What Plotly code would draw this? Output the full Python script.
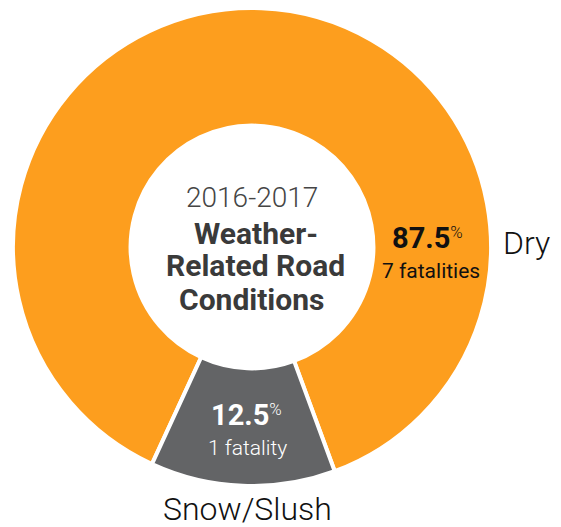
import plotly.graph_objects as go

# ---- data ----
categories = ["Dry", "Snow/Slush"]
fatalities = [7, 1]
percent_labels = ["87.5", "12.5"]
count_labels = ["7 fatalities", "1 fatality"]
colors = ["#FD9E1E", "#636466"]
title_year = "2016-2017"
title_lines = ["Weather-", "Related Road", "Conditions"]

# the page body has an 8px margin, so the figure is drawn 8px in
OFF = 8
W, H = 561 - OFF, 527 - OFF
# square plot area, in page pixels: x 13..491, y 8..486
L, T, SIZE = 13 - OFF, 8 - OFF, 478
R = W - L - SIZE
B = H - T - SIZE


def px(x):
    return (x - OFF - L) / SIZE


def py(y):
    return (T + SIZE - (y - OFF)) / SIZE


fig = go.Figure(
    go.Pie(
        labels=categories,
        values=fatalities,
        sort=False,
        direction="clockwise",
        rotation=-155.25,
        hole=0.508,
        marker=dict(colors=colors, line=dict(color="white", width=4)),
        textinfo="none",
        hoverinfo="label+value+percent",
        showlegend=False,
    )
)

FONT = "Roboto"
ann = []


def add(text, cx, baseline, size, color, weight=400):
    ann.append(
        dict(
            text=text,
            x=px(cx),
            y=py(baseline - 0.34 * size),
            xref="paper",
            yref="paper",
            xanchor="center",
            yanchor="middle",
            showarrow=False,
            font=dict(family=FONT, size=size, color=color, weight=weight),
        )
    )


PCT = "<span style='font-size:24px'><sup>%</sup></span>"

add(title_year, 252, 207, 28, "#454545", 300)
add(title_lines[0], 256, 244, 30, "#3A3A3A", 700)
add(title_lines[1], 255, 276, 30, "#3A3A3A", 700)
add(title_lines[2], 251.5, 310, 30, "#3A3A3A", 700)

add(f"<b>{percent_labels[0]}</b>{PCT}", 427.5, 248, 29, "#111111", 300)
add(count_labels[0], 431, 278, 21, "#111111", 400)
add(categories[0], 526, 254, 32, "#111111", 300)

add(f"<b>{percent_labels[1]}</b>{PCT}", 246.5, 425, 29, "#FFFFFF", 300)
add(count_labels[1], 247, 455, 21, "#FFFFFF", 300)
add(categories[1], 247.5, 520, 32, "#111111", 300)

fig.update_layout(
    width=W,
    height=H,
    margin=dict(l=L, r=R, t=T, b=B, autoexpand=False),
    paper_bgcolor="white",
    plot_bgcolor="white",
    annotations=ann,
)

fig.write_html("out.html")
